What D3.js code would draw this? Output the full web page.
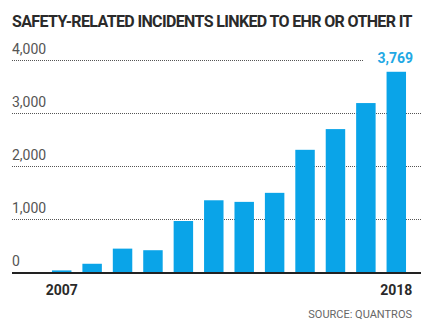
<!DOCTYPE html>
<html>
<head>
<meta charset="utf-8">
<script src="https://cdn.jsdelivr.net/npm/d3@7"></script>
<style>
  body { margin: 0; background: #fff; }
  svg { display: block; font-family: Roboto, "Noto Sans", sans-serif; }
</style>
</head>
<body>
<div id="chart"></div>
<script>
// data
const years = ["2007","2008","2009","2010","2011","2012","2013","2014","2015","2016","2017","2018"];
const incidents = [30, 155, 440, 410, 960, 1350, 1320, 1490, 2300, 2690, 3180, 3769];
const yTicks = [0, 1000, 2000, 3000, 4000];
const labelledYears = ["2007", "2018"];

const W = 421, H = 321;
const barColor = "#0aa4e8";

const svg = d3.select("#chart").append("svg")
  .attr("width", W)
  .attr("height", H);

// scales
const x = d3.scaleBand()
  .domain(years)
  .range([46.5, 411.5])
  .paddingInner(0.36)
  .paddingOuter(0.18);

const y = d3.scaleLinear()
  .domain([0, 4000])
  .range([272, 59.5]);

// title - squeeze letter spacing so it spans ~400px like the condensed original
const title = svg.append("text")
  .attr("x", 12)
  .attr("y", 27)
  .attr("font-size", 16)
  .attr("font-weight", 700)
  .attr("fill", "#2a2a2a")
  .text("SAFETY-RELATED INCIDENTS LINKED TO EHR OR OTHER IT");
const titleLen = title.node().getComputedTextLength();
const nChars = title.text().length;
if (titleLen > 400) {
  title.attr("letter-spacing", ((400 - titleLen) / nChars).toFixed(2));
}

// dotted gridlines (not the zero line)
svg.selectAll("line.grid")
  .data(yTicks.filter(d => d > 0))
  .enter()
  .append("line")
  .attr("class", "grid")
  .attr("x1", 12)
  .attr("x2", d => d === 4000 ? 364 : W)
  .attr("y1", d => Math.round(y(d)) + 0.5)
  .attr("y2", d => Math.round(y(d)) + 0.5)
  .attr("stroke", "#555")
  .attr("stroke-width", 1)
  .attr("stroke-dasharray", "1,1");

// y labels sit above their gridline
svg.selectAll("text.ylab")
  .data(yTicks)
  .enter()
  .append("text")
  .attr("class", "ylab")
  .attr("x", 12)
  .attr("y", d => y(d) - 6)
  .attr("font-size", 14)
  .attr("fill", "#555")
  .text(d => d3.format(",")(d));

// bars
svg.selectAll("rect.bar")
  .data(incidents)
  .enter()
  .append("rect")
  .attr("class", "bar")
  .attr("x", (d, i) => x(years[i]))
  .attr("y", d => y(d))
  .attr("width", x.bandwidth())
  .attr("height", d => y(0) - y(d))
  .attr("fill", barColor);

// baseline
svg.append("line")
  .attr("x1", 12)
  .attr("x2", W)
  .attr("y1", y(0) + 1)
  .attr("y2", y(0) + 1)
  .attr("stroke", "#222")
  .attr("stroke-width", 2);

// last value callout
const last = incidents.length - 1;
svg.append("text")
  .attr("x", x(years[last]) + x.bandwidth() + 7)
  .attr("y", 63)
  .attr("text-anchor", "end")
  .attr("font-size", 14)
  .attr("font-weight", 700)
  .attr("fill", "#22a8e4")
  .text(d3.format(",")(incidents[last]));

// first and last year
svg.selectAll("text.xlab")
  .data(labelledYears)
  .enter()
  .append("text")
  .attr("class", "xlab")
  .attr("x", d => x(d) + x.bandwidth() / 2)
  .attr("y", 295)
  .attr("text-anchor", "middle")
  .attr("font-size", 14)
  .attr("font-weight", 700)
  .attr("fill", "#2a2a2a")
  .text(d => d);

// source
svg.append("text")
  .attr("x", 412)
  .attr("y", 318)
  .attr("text-anchor", "end")
  .attr("font-size", 11)
  .attr("fill", "#666")
  .text("SOURCE: QUANTROS");
</script>
</body>
</html>
